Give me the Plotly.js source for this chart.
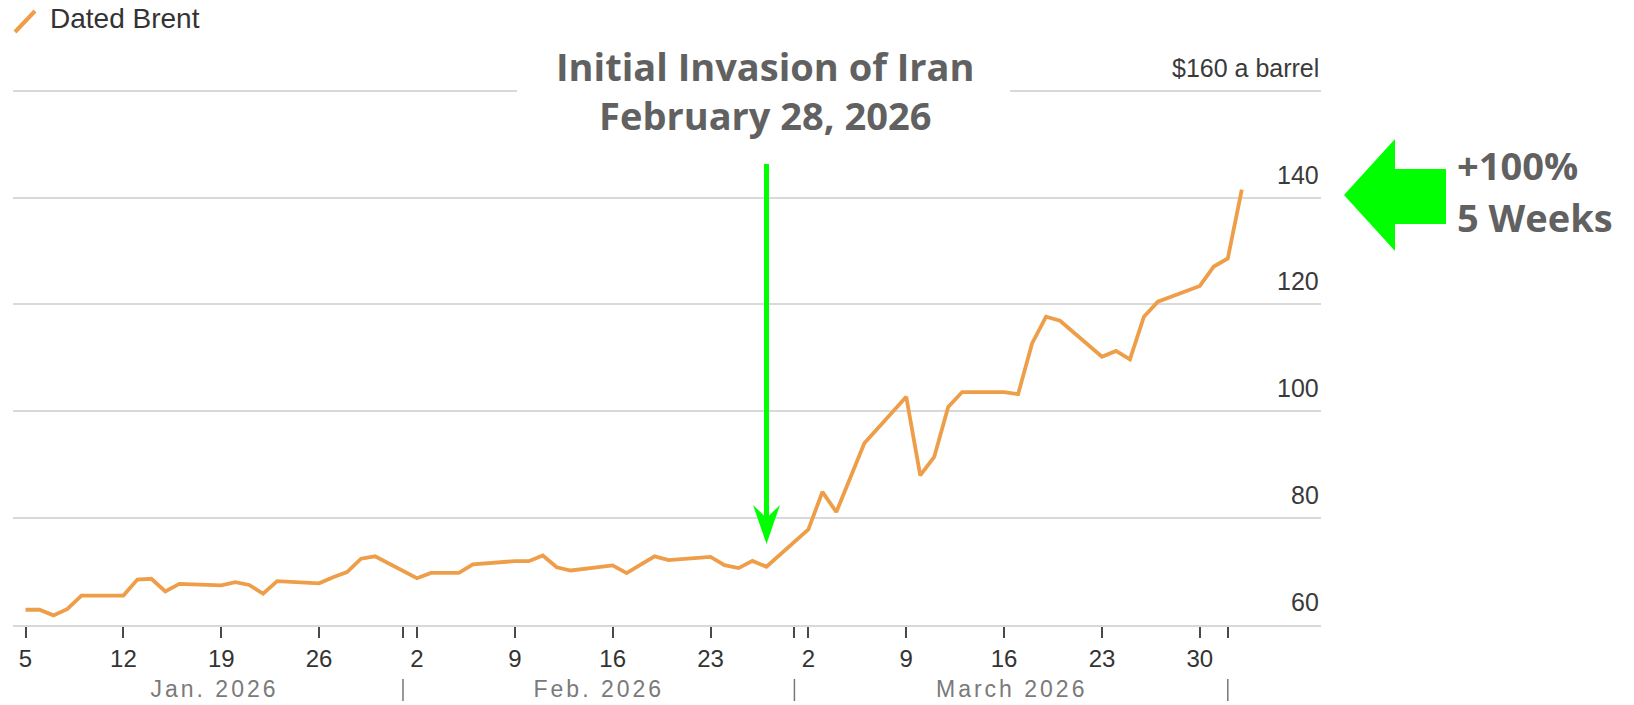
<!DOCTYPE html>
<html>
<head>
<meta charset="utf-8">
<script src="https://cdn.plot.ly/plotly-3.0.1.min.js"></script>
<style>
  html, body { margin: 0; padding: 0; background: #ffffff; }
  #chart { width: 1634px; height: 705px; }
</style>
</head>
<body>
<div id="chart"></div>
<script>
// Dated Brent, daily assessments (USD per barrel)
const seriesName = 'Dated Brent';
const tradeDates = [
  '2026-01-05','2026-01-06','2026-01-07','2026-01-08','2026-01-09',
  '2026-01-12','2026-01-13','2026-01-14','2026-01-15','2026-01-16',
  '2026-01-19','2026-01-20','2026-01-21','2026-01-22','2026-01-23',
  '2026-01-26','2026-01-27','2026-01-28','2026-01-29','2026-01-30',
  '2026-02-02','2026-02-03','2026-02-04','2026-02-05','2026-02-06',
  '2026-02-09','2026-02-10','2026-02-11','2026-02-12','2026-02-13',
  '2026-02-16','2026-02-17','2026-02-18','2026-02-19','2026-02-20',
  '2026-02-23','2026-02-24','2026-02-25','2026-02-26','2026-02-27',
  '2026-03-02','2026-03-03','2026-03-04','2026-03-05','2026-03-06',
  '2026-03-09','2026-03-10','2026-03-11','2026-03-12','2026-03-13',
  '2026-03-16','2026-03-17','2026-03-18','2026-03-19','2026-03-20',
  '2026-03-23','2026-03-24','2026-03-25','2026-03-26','2026-03-27',
  '2026-03-30','2026-03-31','2026-04-01','2026-04-02'
];
const brentPrice = [
  62.85, 62.85, 61.8, 63.0, 65.5,
  65.5, 68.5, 68.65, 66.3, 67.7,
  67.4, 68.0, 67.5, 65.85, 68.2,
  67.8, 68.95, 69.9, 72.4, 72.85,
  68.75, 69.75, 69.75, 69.75, 71.35,
  71.95, 71.95, 73.0, 70.8, 70.2,
  71.15, 69.7, 71.3, 72.85, 72.15,
  72.75, 71.2, 70.65, 72.0, 70.9,
  77.9, 84.9, 81.15, 87.5, 94.0,
  102.7, 88.0, 91.45, 100.8, 103.6,
  103.6, 103.2, 112.7, 117.7, 116.95,
  110.2, 111.3, 109.7, 117.7, 120.5,
  123.45, 127.1, 128.6, 141.5
];

// Axis ticks
const weekTicks = ['2026-01-05','2026-01-12','2026-01-19','2026-01-26','2026-02-02','2026-02-09',
                   '2026-02-16','2026-02-23','2026-03-02','2026-03-09','2026-03-16','2026-03-23','2026-03-30'];
const weekTickText = ['5','12','19','26','2','9','16','23','2','9','16','23','30'];
const monthStarts = ['2026-02-01','2026-03-01','2026-04-01'];
const monthNames = ['Jan. 2026','Feb. 2026','March 2026'];
const priceTicks = [60, 80, 100, 120, 140, 160];
const priceTickText = ['60', '80', '100', '120', '140', '$160 a barrel'];

// Callout texts
const eventTitle = 'Initial Invasion of Iran';
const eventDate = 'February 28, 2026';
const gainLines = ['+100%', '5 Weeks'];

// Page geometry
const W = 1634, H = 705;
const M = { l: 13, r: 313, t: 80, b: 80 };
const plotW = W - M.l - M.r, plotH = H - M.t - M.b;
const xRange = ['2026-01-04 02:30', '2026-04-07 16:00'];
const yRange = [60, 162];

// pixel -> paper helpers for the decorative callouts
const px = X => (X - M.l) / plotW;
const py = Y => (H - M.b - Y) / plotH;
const poly = pts => 'M ' + pts.map(p => px(p[0]) + ',' + py(p[1])).join(' L ') + ' Z';

const ORANGE = '#EE9E48';
const GREEN = '#00FF00';
const GRID = '#d9d9d9';
const CALLOUT = '#616161';
const SANS = 'Liberation Sans, Arial, sans-serif';
const BOLD = 'Open Sans, Lato, sans-serif';

const trace = {
  type: 'scatter',
  mode: 'lines',
  name: seriesName,
  x: tradeDates,
  y: brentPrice,
  line: { color: ORANGE, width: 3.8 },
  hoverinfo: 'x+y'
};

const annotations = [];
const shapes = [];

// price labels sit above their gridlines, flush right
priceTicks.forEach((v, i) => {
  annotations.push({
    xref: 'paper', x: 1, xanchor: 'right',
    yref: 'y', y: v, yanchor: 'middle', yshift: 23,
    text: priceTickText[i], showarrow: false,
    font: { family: SANS, size: 25, color: '#3a3a3a' }
  });
});

// month labels centred in each month's span of the series
const toMs = s => new Date(s.replace(' ', 'T') + 'Z').getTime();
const spanEdges = [tradeDates[0]].concat(monthStarts);
monthNames.forEach((name, i) => {
  const mid = (toMs(spanEdges[i]) + toMs(spanEdges[i + 1])) / 2;
  annotations.push({
    xref: 'x', x: new Date(mid).toISOString().slice(0, 19).replace('T', ' '),
    yref: 'paper', y: py(689), yanchor: 'middle', xanchor: 'center',
    text: name, showarrow: false,
    font: { family: SANS, size: 23, color: '#7a7a7a' }
  });
});
monthStarts.forEach(d => {
  shapes.push({
    type: 'line', xref: 'x', x0: d, x1: d, yref: 'paper', y0: py(679), y1: py(701),
    line: { color: '#777777', width: 1.5 }
  });
});

// legend key
shapes.push({
  type: 'line', xref: 'paper', yref: 'paper',
  x0: px(15), y0: py(32), x1: px(35), y1: py(11),
  line: { color: ORANGE, width: 4 }
});
annotations.push({
  xref: 'paper', x: px(48), xanchor: 'left',
  yref: 'paper', y: py(18), yanchor: 'middle',
  text: seriesName, showarrow: false,
  font: { family: SANS, size: 28, color: '#333333' }
});

// white panel behind the event title
shapes.push({
  type: 'rect', xref: 'paper', yref: 'paper', layer: 'above',
  x0: px(517), x1: px(1010), y0: py(60), y1: py(128),
  fillcolor: '#ffffff', line: { width: 0 }
});
annotations.push({
  xref: 'paper', x: px(765), xanchor: 'center',
  yref: 'paper', y: py(91), yanchor: 'middle',
  text: eventTitle + '<br>' + eventDate, showarrow: false, align: 'center',
  font: { family: BOLD, size: 38, color: CALLOUT, weight: 700 }
});

// downward pointer to the event
shapes.push({
  type: 'line', xref: 'paper', yref: 'paper', layer: 'above',
  x0: px(766.5), x1: px(766.5), y0: py(164), y1: py(518),
  line: { color: GREEN, width: 5 }
});
shapes.push({
  type: 'path', xref: 'paper', yref: 'paper', layer: 'above',
  path: poly([[753, 505], [766.5, 544], [780, 505], [766.5, 518]]),
  fillcolor: GREEN, line: { width: 0 }
});

// block arrow pointing at the latest price
shapes.push({
  type: 'path', xref: 'paper', yref: 'paper', layer: 'above',
  path: poly([[1344, 195], [1395, 139], [1395, 169], [1446, 169], [1446, 224], [1395, 224], [1395, 251]]),
  fillcolor: GREEN, line: { width: 0 }
});
gainLines.forEach((t, i) => {
  annotations.push({
    xref: 'paper', x: px(1455), xanchor: 'left',
    yref: 'paper', y: py(i === 0 ? 165 : 217), yanchor: 'middle',
    text: t, showarrow: false,
    font: { family: BOLD, size: 38, color: CALLOUT, weight: 700 }
  });
});

const layout = {
  width: W, height: H,
  margin: M,
  paper_bgcolor: '#ffffff',
  plot_bgcolor: '#ffffff',
  showlegend: false,
  xaxis: {
    type: 'date',
    range: xRange,
    showgrid: false,
    zeroline: false,
    showline: true, linecolor: GRID, linewidth: 2,
    tickmode: 'array',
    tickvals: weekTicks.concat(monthStarts),
    ticktext: weekTickText.concat(monthStarts.map(() => '')),
    ticks: 'outside', ticklen: 11, tickwidth: 2, tickcolor: '#4a4a4a',
    tickfont: { family: SANS, size: 24, color: '#333333' },
    fixedrange: true
  },
  yaxis: {
    range: yRange,
    tickmode: 'array',
    tickvals: priceTicks,
    showticklabels: false,
    showgrid: true, gridcolor: GRID, gridwidth: 2,
    zeroline: false, showline: false,
    ticks: '',
    fixedrange: true
  },
  shapes: shapes,
  annotations: annotations
};

Plotly.newPlot('chart', [trace], layout, { displayModeBar: false, staticPlot: true }).then(gd => {
  // month captions are set with wider tracking
  gd.querySelectorAll('.annotation-text').forEach(t => {
    if (monthNames.includes(t.textContent)) t.style.letterSpacing = '3px';
  });
});
</script>
</body>
</html>
